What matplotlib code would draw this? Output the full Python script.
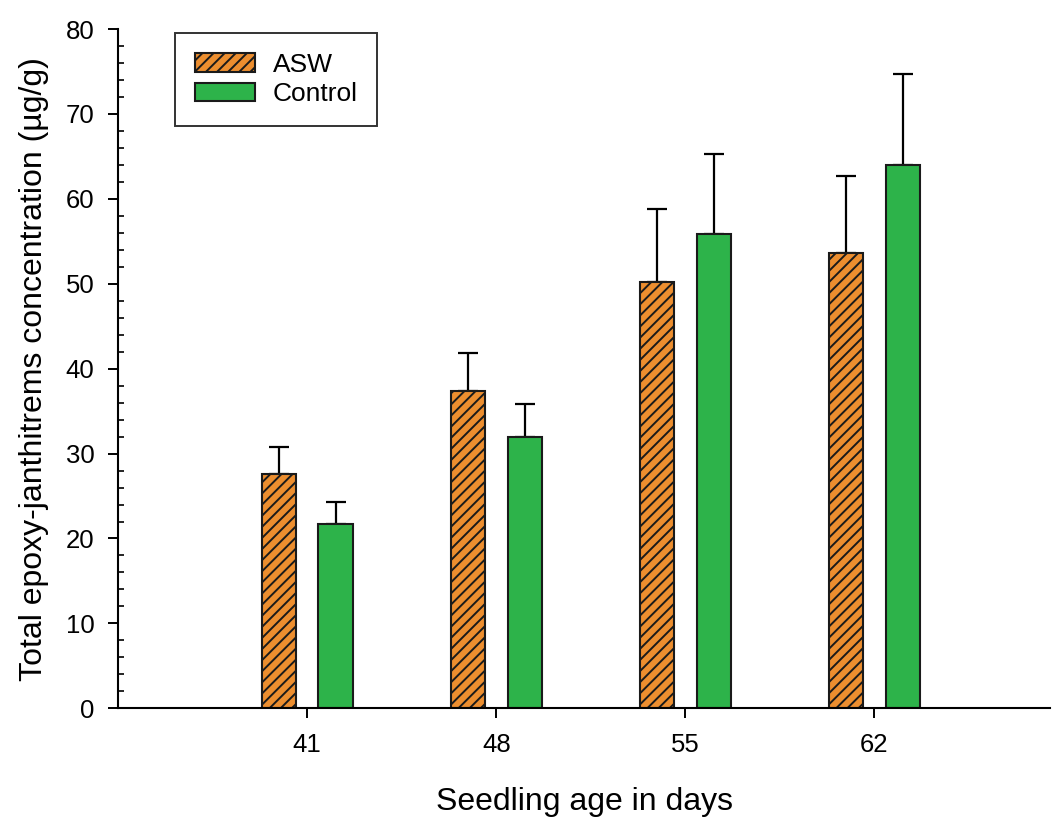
import matplotlib
matplotlib.use("Agg")
import matplotlib.pyplot as plt
from matplotlib.ticker import MultipleLocator

plt.rcParams["font.family"] = ["Liberation Sans", "DejaVu Sans"]
plt.rcParams["hatch.linewidth"] = 1.4
plt.rcParams["hatch.color"] = "#1a1a1a"

# seedling age (days) and mean total epoxy-janthitrems (ug/g) with SE
days = [41, 48, 55, 62]
asw_mean = [27.6, 37.4, 50.2, 53.6]
asw_err = [3.2, 4.4, 8.6, 9.1]
control_mean = [21.7, 32.0, 55.9, 64.0]
control_err = [2.6, 3.8, 9.4, 10.7]

ORANGE = "#EC8E2F"
GREEN = "#2DB34A"

fig = plt.figure(figsize=(10.52, 8.18), dpi=100)
ax = fig.add_axes([0.1122, 0.1341, 0.886, 0.8304])

width = 1.26
offset = 1.05
err_kw = dict(ecolor="black", elinewidth=1.6, capsize=7.5, capthick=1.6)

asw_x = [d - offset for d in days]
ctl_x = [d + offset for d in days]

ax.bar(asw_x, asw_mean, width, color=ORANGE, edgecolor="#1a1a1a",
       linewidth=1.5, hatch="///", label="ASW", zorder=2)
ax.errorbar(asw_x, asw_mean, yerr=[[0] * 4, asw_err], fmt="none", zorder=1, **err_kw)
ax.bar(ctl_x, control_mean, width, color=GREEN, edgecolor="#1a1a1a",
       linewidth=1.5, label="Control", zorder=2)
ax.errorbar(ctl_x, control_mean, yerr=[[0] * 4, control_err], fmt="none", zorder=1, **err_kw)

ax.set_xlim(34.0, 68.5)
ax.set_ylim(0, 80)
ax.set_xticks(days)
ax.yaxis.set_major_locator(MultipleLocator(10))
ax.yaxis.set_minor_locator(MultipleLocator(2))

for side in ("top", "right"):
    ax.spines[side].set_visible(False)
for side in ("left", "bottom"):
    ax.spines[side].set_linewidth(1.5)

ax.tick_params(axis="both", which="major", direction="out", length=7.5,
               width=1.4, labelsize=18.5)
ax.tick_params(axis="y", which="major", pad=9.5)
ax.tick_params(axis="y", which="minor", direction="in", length=4.5, width=1.2)
ax.tick_params(axis="x", pad=10)

ax.set_xlabel("Seedling age in days", fontsize=23, labelpad=22)
ax.set_ylabel("Total epoxy-janthitrems concentration (µg/g)", fontsize=23, labelpad=12)

leg = ax.legend(loc="upper left", bbox_to_anchor=(0.061, 0.994), borderaxespad=0,
                fontsize=19, frameon=True, fancybox=False, edgecolor="black",
                handlelength=2.3, handleheight=0.7, handletextpad=0.65,
                labelspacing=0.2, borderpad=0.75)
leg.get_frame().set_linewidth(1.4)

fig.savefig("out.png", dpi=100, facecolor="white")
